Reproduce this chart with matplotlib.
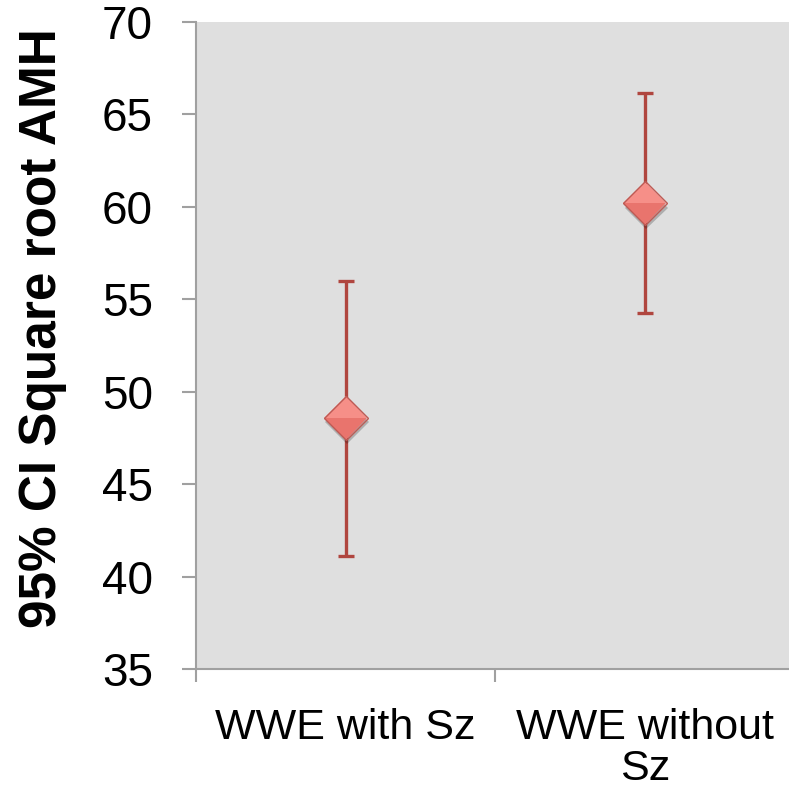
import matplotlib
matplotlib.use('Agg')
import matplotlib.pyplot as plt
import matplotlib.patheffects as pe

groups = ['WWE with Sz', 'WWE without\nSz']
means = [48.58, 60.19]
ci_low = [41.12, 54.24]
ci_high = [55.99, 66.14]

plt.rcParams['font.family'] = ['Liberation Sans', 'DejaVu Sans']

fig = plt.figure(figsize=(7.89, 7.91), dpi=100)
# plot area runs slightly past the right edge of the canvas
ax = fig.add_axes([0.2484, 0.1542, 0.7585, 0.818])
ax.set_facecolor('#dfdfdf')

xs = [i + 0.5 for i in range(len(groups))]
err = [[m - lo for m, lo in zip(means, ci_low)],
       [hi - m for m, hi in zip(means, ci_high)]]
ax.errorbar(xs, means, yerr=err, fmt='none', ecolor='#b0463f',
            elinewidth=2.4, capsize=5.8, capthick=2.4, zorder=2)

# two-tone diamond fill with a soft drop shadow, then the outline on top
ax.plot(xs, means, linestyle='none', marker='D', markersize=22,
        fillstyle='top', markerfacecolor='#f68f88', markerfacecoloralt='#e9746d',
        markeredgewidth=0, zorder=3,
        path_effects=[pe.SimplePatchShadow(offset=(1, -3), shadow_rgbFace='k', alpha=0.22),
                      pe.Normal()])
ax.plot(xs, means, linestyle='none', marker='D', markersize=22,
        markerfacecolor='none', markeredgecolor='#bd5a54', markeredgewidth=1.0, zorder=4)

ax.set_xlim(0, 2)
ax.set_ylim(35, 70)
ax.set_yticks(range(35, 71, 5))
ax.set_xticks([0, 1])
ax.set_xticklabels([])
ax.set_xticks(xs, minor=True)
ax.set_xticklabels(groups, minor=True, fontsize=31, linespacing=1.02)
ax.tick_params(axis='x', which='minor', length=0, pad=28)
ax.tick_params(axis='x', which='major', length=9, color='#a0a0a0', width=1.5, direction='out')
ax.tick_params(axis='y', length=10, color='#a0a0a0', width=1.5, labelsize=33, pad=21)

for side in ['top', 'right']:
    ax.spines[side].set_visible(False)
for side in ['left', 'bottom']:
    ax.spines[side].set_color('#a0a0a0')
    ax.spines[side].set_linewidth(1.5)

ax.set_ylabel('95% CI Square root AMH', fontsize=37, fontweight='bold')
ax.yaxis.set_label_coords(-0.216, 0.527)

fig.savefig('out.png', dpi=100)
